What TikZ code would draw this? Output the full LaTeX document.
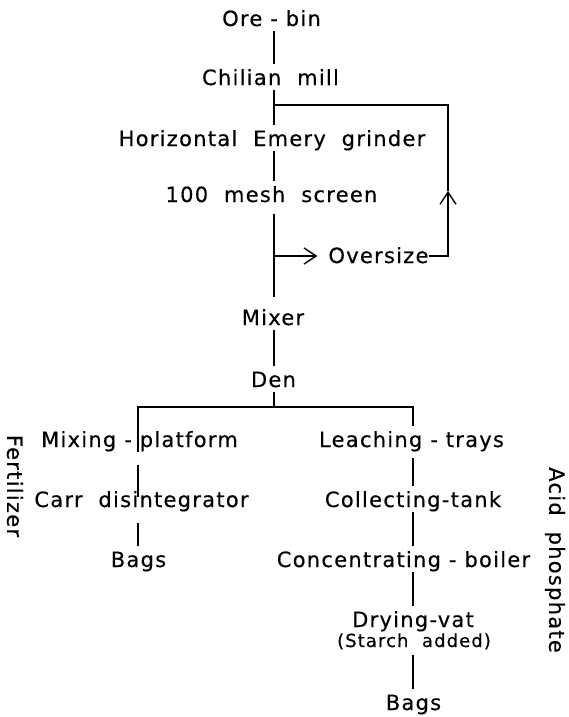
\documentclass[tikz,border=0pt]{standalone}
\usepackage{fontspec}
\newfontfamily\lab[LetterSpace=6,FakeBold=0.4]{DejaVu Sans}
\usetikzlibrary{arrows.meta,calc}
\begin{document}
\begin{tikzpicture}[x=1pt,y=-1pt,
  lbl/.style={font=\lab\fontsize{21}{23}\selectfont, inner sep=0pt, text height=21pt, text depth=5pt, anchor=base},
  small/.style={lbl, font=\lab\fontsize{18}{20}\selectfont},
  side/.style={font=\lab\fontsize{21}{23}\selectfont, inner sep=0pt, rotate=-90, anchor=center},
  flow/.style={line width=1.4pt},
  tip/.style={flow, -{Straight Barb[length=12pt,width=16pt,line width=1.4pt]}}]
\useasboundingbox (0,0) rectangle (569,717);
\coordinate (sp) at (274,0);
\coordinate (L) at (138,0);
\coordinate (R) at (413,0);
\coordinate (RR) at (448,0);
\node[lbl] (ore) at (271.5,26) {Ore - bin};
\node[lbl] (chil) at (270.5,85) {Chilian\ \ mill};
\node[lbl] (hor) at (272,146) {Horizontal\ \ Emery\ \ grinder};
\node[lbl] (scr) at (271.5,202) {100\ \ mesh\ \ screen};
\node[lbl] (os) at (378.5,263) {Oversize};
\node[lbl] (mix) at (273,325) {Mixer};
\node[lbl] (den) at (273.5,387) {Den};
\node[lbl] (mp) at (139.5,447) {Mixing - platform};
\node[lbl] (carr) at (141.5,507) {Carr\ \ disintegrator};
\node[lbl] (bagsA) at (138.5,567) {Bags};
\node[lbl] (leach) at (411.5,447) {Leaching - trays};
\node[lbl] (coll) at (413,507) {Collecting-tank};
\node[lbl] (conc) at (403.5,567) {Concentrating - boiler};
\node[lbl] (dry) at (413,627) {Drying-vat};
\node[small] (starch) at (414,647) {(Starch\ \ added)};
\node[lbl] (bagsB) at (413.5,710) {Bags};
\node[side] (fert) at (15,486) {Fertilizer};
\node[side] (acid) at (555,560) {Acid\ \ phosphate};
\coordinate (J1) at (274,105);
\coordinate (J2) at ([yshift=7pt]os.base -| sp);
\coordinate (bar) at (274,407);
\coordinate (up) at (448,191);
% main spine
\draw[flow] (ore.south -| sp) -- (chil.north -| sp);
\draw[flow] (chil.south -| sp) -- (hor.north -| sp);
\draw[flow] (hor.south -| sp) -- (scr.north -| sp);
\draw[flow] ([yshift=-7pt]scr.south -| sp) -- ([yshift=7pt]mix.north -| sp);
\draw[flow] (mix.south -| sp) -- (den.north -| sp);
\draw[flow] (den.south -| sp) -- (bar);
% return loop
\draw[tip] (J2) -- ([xshift=-11pt]os.west |- J2);
\draw[tip] (os.east |- J2) -- (RR |- J2) -- (up);
\draw[flow] (up) -- (RR |- J1) -- (J1);
% branch bar
\draw[flow] (mp.south -| L) -- (L |- bar) -- (R |- bar) -- (leach.north -| R);
% left branch
\draw[flow] ([yshift=-13pt]mp.south -| L) -- ([yshift=-11pt]carr.north -| L);
\draw[flow] ([yshift=-11pt]carr.south -| L) -- (bagsA.north -| L);
% right branch
\draw[flow] ([yshift=-6pt]leach.south -| R) -- (coll.north -| R);
\draw[flow] (coll.south -| R) -- (conc.north -| R);
\draw[flow] (conc.south -| R) -- (dry.north -| R);
\draw[flow] ([yshift=-3pt]starch.south -| R) -- (bagsB.north -| R);
\end{tikzpicture}
\end{document}
